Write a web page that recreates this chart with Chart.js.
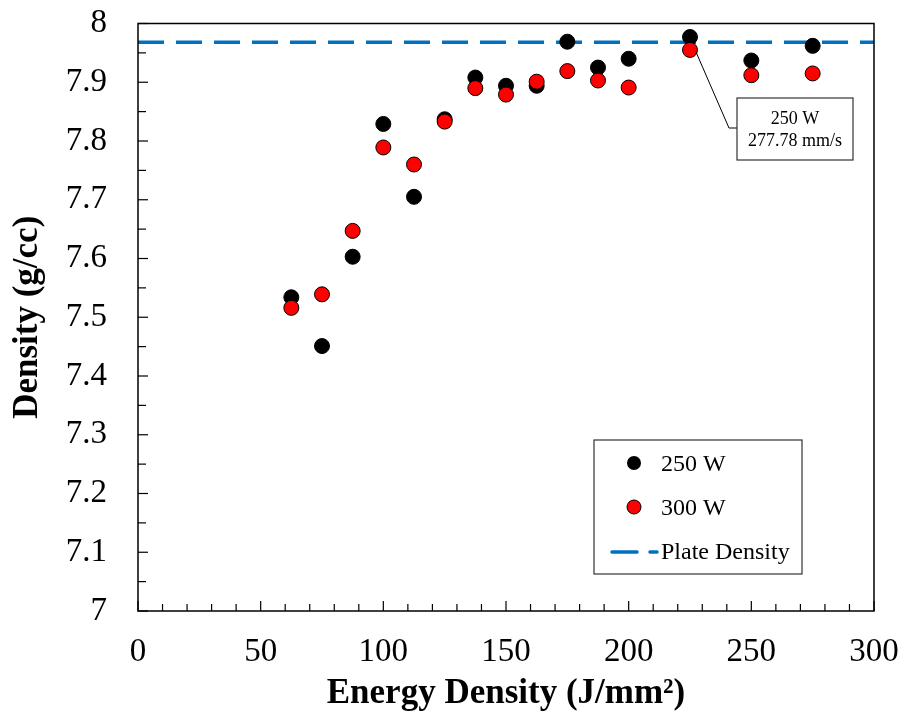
<!DOCTYPE html>
<html>
<head>
<meta charset="utf-8">
<script src="https://cdn.jsdelivr.net/npm/chart.js@4"></script>
<style>
  html, body { margin: 0; padding: 0; background: #fff; }
  #wrap { width: 905px; height: 721px; }
</style>
</head>
<body>
<div id="wrap"><canvas id="myChart" width="905" height="721"></canvas></div>
<script>
// energy density (J/mm2) for each build
const energy = [62.5, 75, 87.5, 100, 112.5, 125, 137.5, 150, 162.5, 175, 187.5, 200, 225, 250, 275];
// measured density (g/cc)
const density250 = [7.534, 7.451, 7.603, 7.829, 7.705, 7.837, 7.908, 7.894, 7.894, 7.969, 7.925, 7.940, 7.977, 7.937, 7.962];
const density300 = [7.516, 7.539, 7.647, 7.789, 7.760, 7.833, 7.890, 7.879, 7.901, 7.919, 7.903, 7.891, 7.955, 7.912, 7.915];
const plateDensity = 7.968;
const xRange = [0, 300];
const yRange = [7, 8];

const serif = '"Liberation Serif", "Times New Roman", serif';

// ticks inside the box, legend and callout drawn by hand
const decorations = {
  id: 'decorations',
  afterDraw(chart) {
    const { ctx, chartArea: a, scales: { x, y } } = chart;
    ctx.save();
    ctx.strokeStyle = '#000';
    ctx.lineWidth = 1.5;
    ctx.strokeRect(a.left, a.top, a.right - a.left, a.bottom - a.top);

    ctx.lineWidth = 1.2;
    for (let v = 0; v <= 300; v += 10) {
      const px = x.getPixelForValue(v);
      const len = v % 50 === 0 ? 10 : 7;
      ctx.beginPath(); ctx.moveTo(px, a.bottom); ctx.lineTo(px, a.bottom - len); ctx.stroke();
    }
    for (let i = 0; i <= 20; i++) {
      const py = y.getPixelForValue(7 + i * 0.05);
      const len = i % 2 === 0 ? 10 : 8;
      ctx.beginPath(); ctx.moveTo(a.left, py); ctx.lineTo(a.left + len, py); ctx.stroke();
    }

    // legend
    const lx = 594, ly = 440, lw = 208, lh = 134;
    ctx.fillStyle = '#fff';
    ctx.fillRect(lx, ly, lw, lh);
    ctx.lineWidth = 1.2;
    ctx.strokeStyle = '#333';
    ctx.strokeRect(lx, ly, lw, lh);
    ctx.font = '24px ' + serif;
    ctx.textBaseline = 'middle';
    ctx.fillStyle = '#000';
    ctx.beginPath(); ctx.arc(634, 463, 7, 0, Math.PI * 2); ctx.fill();
    ctx.fillText('250 W', 661, 465);
    ctx.beginPath(); ctx.arc(634, 507, 7, 0, Math.PI * 2);
    ctx.fillStyle = '#ff0000'; ctx.fill();
    ctx.strokeStyle = '#000'; ctx.lineWidth = 1; ctx.stroke();
    ctx.fillStyle = '#000';
    ctx.fillText('300 W', 661, 509);
    ctx.strokeStyle = '#0070c0'; ctx.lineWidth = 3.5; ctx.lineCap = 'round';
    ctx.beginPath(); ctx.moveTo(612, 552); ctx.lineTo(637, 552); ctx.stroke();
    ctx.beginPath(); ctx.moveTo(650, 552); ctx.lineTo(657, 552); ctx.stroke();
    ctx.lineCap = 'butt';
    ctx.fillText('Plate Density', 661, 553);

    // callout for the 225 J/mm2 point
    const px = x.getPixelForValue(energy[12]);
    const py = y.getPixelForValue(density250[12]);
    ctx.strokeStyle = '#000'; ctx.lineWidth = 1;
    ctx.beginPath(); ctx.moveTo(px + 6, py + 15); ctx.lineTo(729, 128); ctx.lineTo(737, 128); ctx.stroke();
    ctx.fillStyle = '#fff';
    ctx.fillRect(737, 98, 116, 62);
    ctx.strokeStyle = '#333'; ctx.lineWidth = 1.2;
    ctx.strokeRect(737, 98, 116, 62);
    ctx.fillStyle = '#000';
    ctx.font = '18px ' + serif;
    ctx.textAlign = 'center';
    ctx.fillText('250 W', 795, 119);
    ctx.fillText('277.78 mm/s', 795, 141);
    ctx.restore();
  }
};

const ctx = document.getElementById('myChart').getContext('2d');
new Chart(ctx, {
  type: 'scatter',
  data: {
    datasets: [
      {
        label: 'Plate Density',
        type: 'line',
        data: [{ x: xRange[0], y: plateDensity }, { x: xRange[1], y: plateDensity }],
        borderColor: '#0070c0',
        borderWidth: 3.5,
        borderDash: [26, 12],
        pointRadius: 0,
        order: 3
      },
      {
        label: '300 W',
        data: energy.map((e, i) => ({ x: e, y: density300[i] })),
        backgroundColor: '#ff0000',
        borderColor: '#000',
        borderWidth: 1,
        pointRadius: 7.5,
        order: 1
      },
      {
        label: '250 W',
        data: energy.map((e, i) => ({ x: e, y: density250[i] })),
        backgroundColor: '#000',
        borderColor: '#000',
        borderWidth: 1,
        pointRadius: 7.5,
        order: 2
      }
    ]
  },
  options: {
    responsive: false,
    animation: false,
    layout: { padding: { left: 0, top: 23.5, right: 31, bottom: 0 } },
    plugins: { legend: { display: false }, tooltip: { enabled: false } },
    scales: {
      x: {
        type: 'linear',
        min: xRange[0], max: xRange[1],
        grid: { display: false },
        border: { display: false },
        ticks: { stepSize: 50, padding: 14, color: '#000', font: { family: serif, size: 33 }, maxRotation: 0 },
        title: { display: true, text: 'Energy Density (J/mm²)', color: '#000',
                 font: { family: serif, size: 35, weight: 'bold' }, padding: { top: 0, bottom: 6 } },
        afterFit(scale) {
          scale.height = 110;
          scale.paddingLeft = 0; scale.paddingRight = 0;
        }
      },
      y: {
        min: yRange[0], max: yRange[1],
        grid: { display: false },
        border: { display: false },
        ticks: { stepSize: 0.1, padding: 23, color: '#000', font: { family: serif, size: 33 },
                 callback: v => +v.toFixed(1) },
        title: { display: true, text: 'Density (g/cc)', color: '#000',
                 font: { family: serif, size: 35, weight: 'bold' }, padding: { top: 7, bottom: 0 } },
        afterFit(scale) {
          scale.width = 138;
          scale.paddingTop = 0; scale.paddingBottom = 0;
        }
      }
    }
  },
  plugins: [decorations]
});
</script>
</body>
</html>
